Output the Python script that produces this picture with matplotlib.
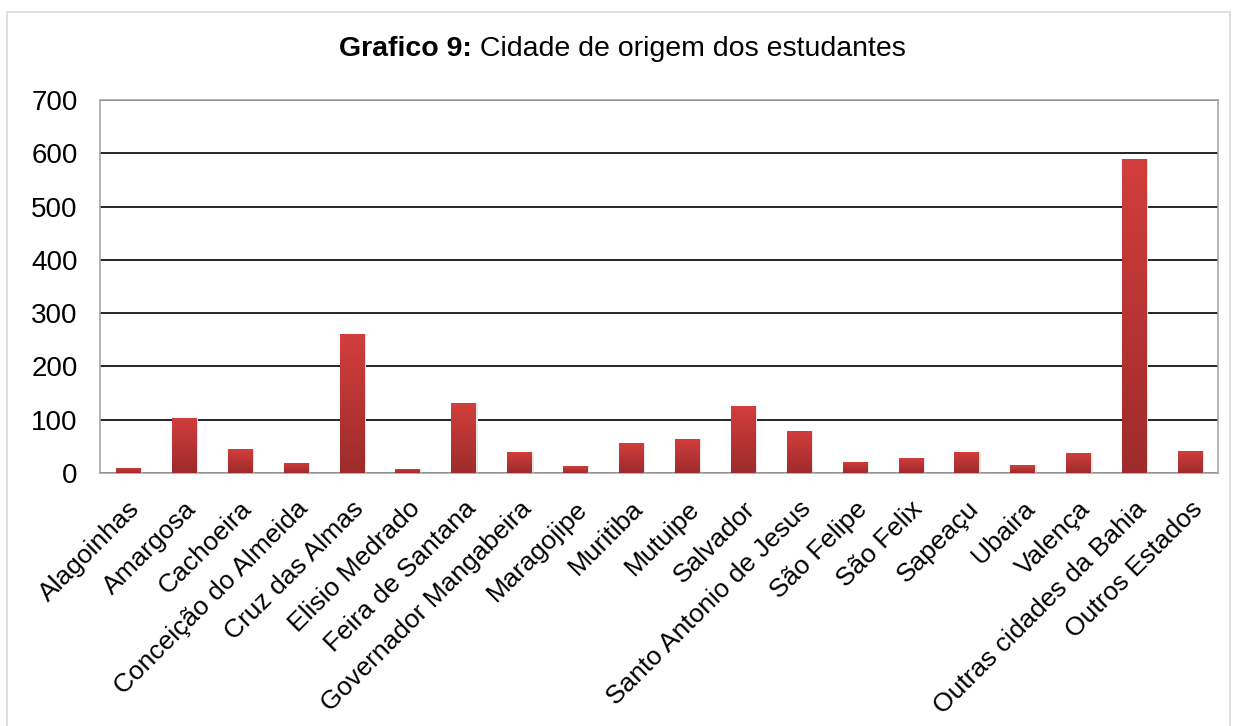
import numpy as np
import matplotlib
matplotlib.use("Agg")
import matplotlib.pyplot as plt
from matplotlib.patches import Rectangle
from matplotlib.colors import LinearSegmentedColormap

plt.rcParams['font.family'] = ['Liberation Sans', 'DejaVu Sans']

cidades = ["Alagoinhas", "Amargosa", "Cachoeira", "Conceição do Almeida", "Cruz das Almas",
           "Elisio Medrado", "Feira de Santana", "Governador Mangabeira", "Maragojipe", "Muritiba",
           "Mutuipe", "Salvador", "Santo Antonio de Jesus", "São Felipe", "São Felix",
           "Sapeaçu", "Ubaira", "Valença", "Outras cidades da Bahia", "Outros Estados"]
estudantes = [10, 104, 45, 19, 261, 8, 131, 40, 13, 57,
              64, 125, 79, 21, 28, 40, 15, 38, 590, 42]
yticks = [0, 100, 200, 300, 400, 500, 600, 700]

fig = plt.figure(figsize=(12.37, 7.26), dpi=100)
fig.patches.append(Rectangle((7/1237, -0.01), 1223/1237, 1 - 12/726 + 0.01, transform=fig.transFigure,
                             fill=False, edgecolor='#d9d9d9', linewidth=1.2))

ax = fig.add_axes([100/1237, 1 - 473/726, 1118/1237, 373/726])
x = np.arange(len(cidades))
bars = ax.bar(x, estudantes, width=0.43, color='#c0393a', zorder=3)

# gradiente vertical em cada barra
cmap = LinearSegmentedColormap.from_list('verm', ['#9e2b2b', '#d23e3d'])
grad = np.linspace(0, 1, 256).reshape(-1, 1)
for b in bars:
    x0, w, h = b.get_x(), b.get_width(), b.get_height()
    im = ax.imshow(grad, cmap=cmap, origin='lower', aspect='auto',
                   extent=(x0, x0 + w, 0, h), zorder=3)
    im.set_clip_path(b)
    ax.add_patch(Rectangle((x0 + w, 0), 0.04, h, color='#e6e6e6', zorder=2, linewidth=0))

ax.set_xlim(-0.5, len(cidades) - 0.5)
ax.set_ylim(0, 700)
ax.set_yticks(yticks)
ax.yaxis.grid(True, color='black', linewidth=1.2, zorder=1)
ax.set_axisbelow(True)
for s in ax.spines.values():
    s.set_color('#a6a6a6')
    s.set_linewidth(1.2)
ax.tick_params(axis='y', length=0, labelsize=20, pad=16)
ax.tick_params(axis='x', length=0, labelsize=19, pad=17)
ax.set_xticks(x)
ax.set_xticklabels(cidades, rotation=45, ha='right', rotation_mode='anchor')

fig.text(472/1237, 1 - 49/726, "Grafico 9:", fontsize=20.5, fontweight='bold', ha='right', va='center')
fig.text(472/1237, 1 - 49/726, " Cidade de origem dos estudantes", fontsize=20.5, ha='left', va='center')

fig.savefig("out.png", dpi=100)
